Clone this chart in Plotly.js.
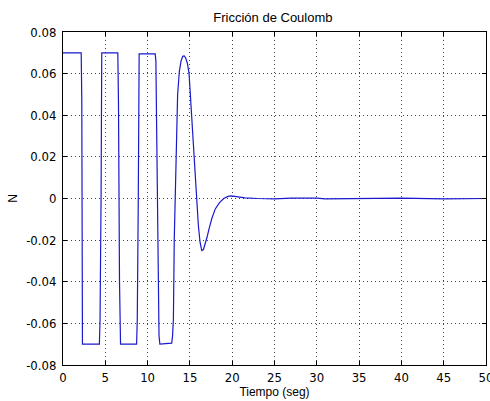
<!DOCTYPE html>
<html>
<head>
<meta charset="utf-8">
<script src="https://cdn.plot.ly/plotly-3.0.1.min.js"></script>
<style>html,body{margin:0;padding:0;background:#fff;}#chart{width:490px;height:401px;}</style>
</head>
<body>
<div id="chart"></div>
<script>
// Time (s) and Coulomb friction (N)
const tiempo = [0, 2.15, 2.22, 2.3, 4.3, 4.38, 4.5, 4.58, 6.48, 6.56, 6.68, 6.8, 8.7, 8.78, 8.9, 9.0, 10.9, 10.98, 11.08, 11.22, 11.35, 11.45, 12.85, 12.95, 13.05, 13.15, 13.35, 13.55, 13.75, 13.95, 14.15, 14.33, 14.5, 14.7, 14.9, 15.05, 15.2, 15.4, 15.6, 15.8, 16.0, 16.2, 16.4, 16.6, 16.8, 17.0, 17.3, 17.6, 18.0, 18.5, 19.0, 19.5, 19.9, 20.5, 21.5, 23, 25, 27, 30, 31, 35, 40, 45, 50];
const friccion = [0.07, 0.07, 0.048, -0.07, -0.07, -0.058, 0.0, 0.07, 0.07, 0.045, -0.04, -0.07, -0.07, -0.058, 0.0, 0.0695, 0.0695, 0.066, 0.03, -0.04, -0.066, -0.07, -0.0695, -0.066, -0.058, -0.02, 0.023, 0.050, 0.061, 0.066, 0.0683, 0.0685, 0.0675, 0.065, 0.060, 0.050, 0.038, 0.022, 0.009, -0.003, -0.013, -0.021, -0.025, -0.0245, -0.022, -0.019, -0.014, -0.0095, -0.005, -0.002, 0.0, 0.001, 0.0013, 0.0009, 0.0003, 0.0, -0.0002, 0.0002, 0.0002, -0.0002, 0.0, 0.0002, -0.0002, 0.0];

const xTickVals = [0, 5, 10, 15, 20, 25, 30, 35, 40, 45, 50];
const xTickText = ['0', '5', '10', '15', '20', '25', '30', '35', '40', '45', '50'];
const yTickVals = [-0.08, -0.06, -0.04, -0.02, 0, 0.02, 0.04, 0.06, 0.08];
const yTickText = ['-0.08', '-0.06', '-0.04', '-0.02', '0', '0.02', '0.04', '0.06', '0.08'];

const FONT = 'Liberation Sans, Arial, sans-serif';
const TICKFONT = 'Liberation Sans Narrow, DejaVu Sans Condensed, Liberation Sans, sans-serif';

const trace = {
  x: tiempo, y: friccion, type: 'scatter', mode: 'lines',
  line: {color: 'rgb(25,25,205)', width: 1.2},
  hoverinfo: 'skip'
};

const axisCommon = {
  showline: true, linecolor: '#000', linewidth: 1, mirror: 'ticks',
  ticks: 'inside', ticklen: 4, tickcolor: '#000', tickwidth: 1,
  showgrid: true, gridcolor: 'rgba(0,0,0,0.75)', griddash: '1px,3px', gridwidth: 1,
  zeroline: false, tickmode: 'array', ticklabeloverflow: 'allow',
  tickfont: {family: TICKFONT, size: 13, color: '#000'}
};

const layout = {
  width: 490, height: 401,
  margin: {l: 63, r: 4, t: 32, b: 36},
  paper_bgcolor: '#fff', plot_bgcolor: '#fff',
  showlegend: false,
  title: {text: 'Fricción de Coulomb', x: 0.557, xanchor: 'center', y: 0.957, yanchor: 'middle',
          font: {family: FONT, size: 13, color: '#000'}},
  xaxis: Object.assign({}, axisCommon, {
    range: [0, 50], tickvals: xTickVals, ticktext: xTickText,
    title: {text: 'Tiempo (seg)', standoff: 2, font: {family: FONT, size: 12, color: '#000'}}
  }),
  yaxis: Object.assign({}, axisCommon, {
    range: [-0.08, 0.08], tickvals: yTickVals, ticktext: yTickText, ticklabelstandoff: 3,
    title: {text: 'N', standoff: 5, font: {family: FONT, size: 12, color: '#000'}}
  })
};

Plotly.newPlot('chart', [trace], layout, {staticPlot: true, displayModeBar: false});
</script>
</body>
</html>
